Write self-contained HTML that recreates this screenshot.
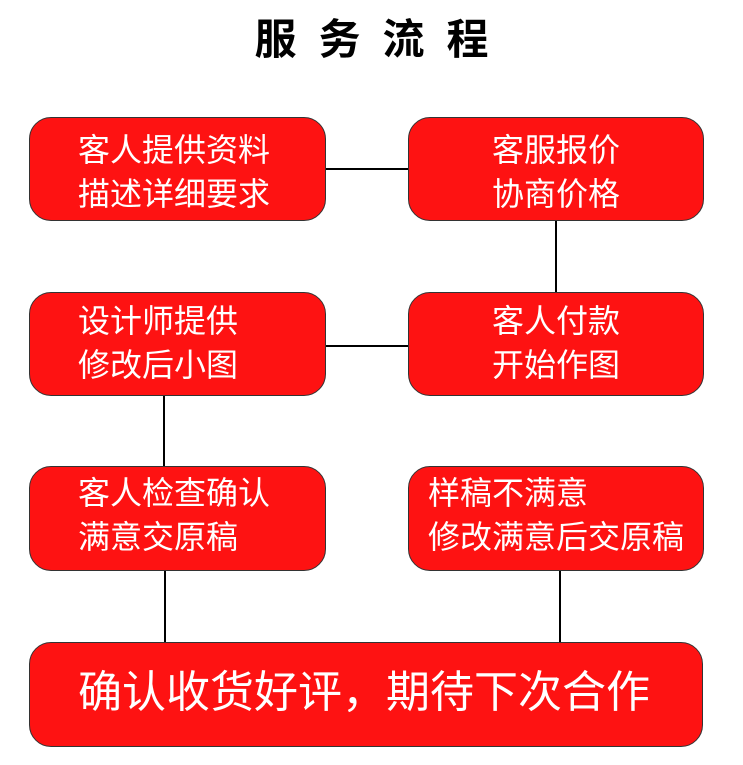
<!DOCTYPE html>
<html><head><meta charset="utf-8"><style>
body{margin:0;width:743px;height:765px;background:#fff;position:relative;overflow:hidden;font-family:"Liberation Sans","Noto Sans CJK SC",sans-serif}
.t{position:absolute;left:0;width:743px;top:12px;text-align:center;font-size:42px;font-weight:bold;letter-spacing:22px;line-height:56px;padding-left:22px;box-sizing:border-box}
.b{position:absolute;background:#fe1212;border:1px solid #333;border-radius:22px;box-sizing:border-box;color:#fff;font-size:32px;line-height:44px;white-space:nowrap}
.l{position:absolute;background:#000}
</style></head><body>
<div class="t">服务流程</div>
<div class="l" style="left:325px;top:168px;width:84px;height:2px"></div>
<div class="l" style="left:555px;top:220px;width:2px;height:73px"></div>
<div class="l" style="left:325px;top:345px;width:84px;height:2px"></div>
<div class="l" style="left:163px;top:395px;width:2px;height:73px"></div>
<div class="l" style="left:164px;top:570px;width:2px;height:73px"></div>
<div class="l" style="left:559px;top:570px;width:2px;height:73px"></div>
<div class="b" style="left:29px;top:117px;width:297px;height:104px;padding:10px 0 0 48px">客人提供资料<br>描述详细要求</div>
<div class="b" style="left:408px;top:117px;width:296px;height:104px;padding-top:10px;text-align:center">客服报价<br>协商价格</div>
<div class="b" style="left:29px;top:292px;width:297px;height:104px;padding:6px 0 0 48px">设计师提供<br>修改后小图</div>
<div class="b" style="left:408px;top:292px;width:296px;height:104px;padding-top:6px;text-align:center">客人付款<br>开始作图</div>
<div class="b" style="left:29px;top:466px;width:297px;height:105px;padding:4px 0 0 48px">客人检查确认<br>满意交原稿</div>
<div class="b" style="left:408px;top:466px;width:296px;height:105px;padding:4px 0 0 19px">样稿不满意<br>修改满意后交原稿</div>
<div class="b" style="left:29px;top:642px;width:674px;height:105px;padding:24px 0 0 48px;font-size:44px;line-height:52px">确认收货好评，期待下次合作</div>
</body></html>
